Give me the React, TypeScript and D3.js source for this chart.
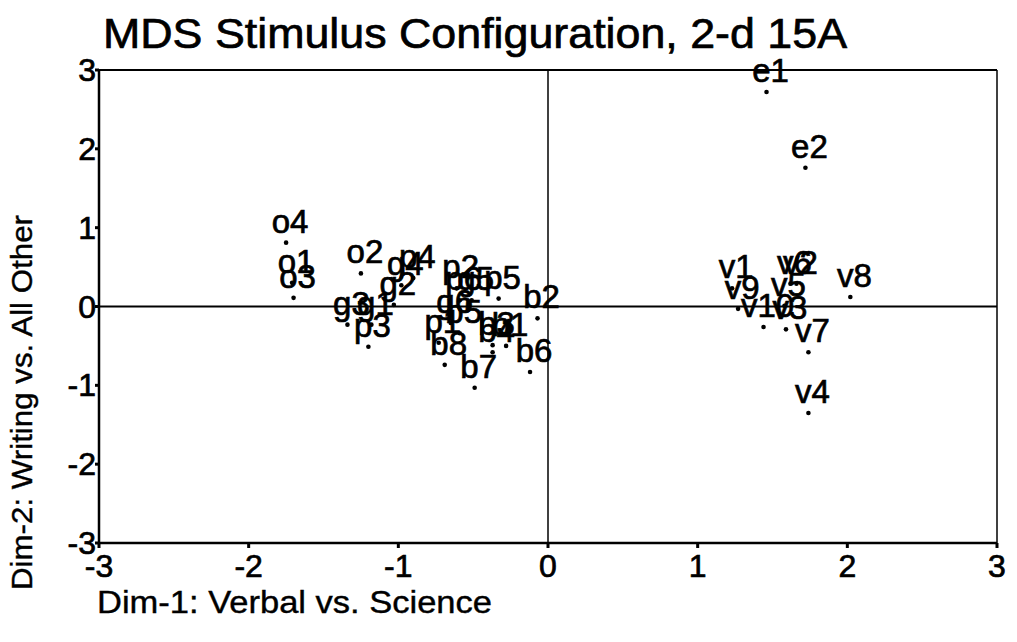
import React from "react";
import * as d3 from "d3";

const labels = ["o1","o2","o3","o4","g1","g2","g3","g4","g5","g6","p1","p2","p3","p4","p5","p6","b1","b2","b3","b4","b5","b6","b7","b8","v1","v2","v3","v4","v5","v6","v7","v8","v9","v10","e1","e2"];
const dim1 = [-1.71,-1.25,-1.70,-1.75,-1.18,-1.03,-1.34,-0.98,-0.51,-0.65,-0.73,-0.61,-1.20,-0.90,-0.33,-0.59,-0.28,-0.07,-0.37,-0.37,-0.59,-0.12,-0.49,-0.69,1.23,1.66,1.59,1.74,1.58,1.62,1.74,2.02,1.27,1.44,1.46,1.72];
const dim2 = [0.30,0.42,0.11,0.81,-0.23,0.02,-0.23,0.27,0.08,-0.21,-0.46,0.23,-0.51,0.36,0.10,0.08,-0.50,-0.15,-0.49,-0.58,-0.34,-0.83,-1.03,-0.74,0.23,0.29,-0.29,-1.35,0.01,0.29,-0.58,0.12,-0.03,-0.26,2.72,1.76];
const ticks = [-3,-2,-1,0,1,2,3];
const title = "MDS Stimulus Configuration, 2-d 15A";
const xTitle = "Dim-1: Verbal vs. Science";
const yTitle = "Dim-2: Writing vs. All Other";

export default function App() {
  const W = 1017, H = 642;
  const x = d3.scaleLinear().domain([-3, 3]).range([99, 997]);
  const y = d3.scaleLinear().domain([-3, 3]).range([543, 70]);
  const font = "'Liberation Sans', Arial, sans-serif";
  const heavy = { stroke: "#000", strokeWidth: 0.7 };
  return (
    <svg width={W} height={H} style={{ position: "absolute", left: 0, top: 0, background: "#fff" }} fontFamily={font}>
      <rect x={0} y={0} width={W} height={H} fill="#fff" />
      <text x={103} y={48} fontSize={43} textLength={744} lengthAdjust="spacingAndGlyphs" {...heavy}>{title}</text>
      {/* frame */}
      <line x1={x(-3)} x2={x(3)} y1={y(3)} y2={y(3)} stroke="#000" strokeWidth={2} />
      <line x1={x(3)} x2={x(3)} y1={y(3)} y2={y(-3)} stroke="#000" strokeWidth={1.5} />
      <line x1={x(-3)} x2={x(3)} y1={y(-3)} y2={y(-3)} stroke="#000" strokeWidth={2.5} />
      <line x1={x(-3)} x2={x(-3)} y1={y(3)} y2={y(-3)} stroke="#000" strokeWidth={2.5} />
      {/* zero lines */}
      <line x1={x(-3)} x2={x(3)} y1={y(0)} y2={y(0)} stroke="#000" strokeWidth={2} />
      <line x1={x(0)} x2={x(0)} y1={y(3)} y2={y(-3)} stroke="#000" strokeWidth={1.5} />
      {ticks.map((t) => (
        <g key={"xt" + t}>
          <line x1={x(t)} x2={x(t)} y1={y(-3)} y2={y(-3) + 5} stroke="#000" strokeWidth={3} />
          <text x={x(t)} y={577} fontSize={32} textAnchor="middle" {...heavy}>{t}</text>
        </g>
      ))}
      {ticks.map((t) => (
        <g key={"yt" + t}>
          <line x1={x(-3) - 4} x2={x(-3)} y1={y(t)} y2={y(t)} stroke="#000" strokeWidth={3} />
          <text x={x(-3) - 3} y={y(t) + 11} fontSize={32} textAnchor="end" {...heavy}>{t}</text>
        </g>
      ))}
      <text x={97} y={613} fontSize={31} textLength={395} lengthAdjust="spacingAndGlyphs" stroke="#000" strokeWidth={0.4}>{xTitle}</text>
      <text transform={`translate(32,590) rotate(-90)`} fontSize={30} textLength={375} lengthAdjust="spacingAndGlyphs" stroke="#000" strokeWidth={0.4}>{yTitle}</text>
      {labels.map((l, i) => (
        <g key={l}>
          <circle cx={x(dim1[i])} cy={y(dim2[i])} r={2.3} fill="#000" />
          <text x={x(dim1[i]) + 4} y={y(dim2[i]) - 10} fontSize={33} textAnchor="middle" {...heavy}>{l}</text>
        </g>
      ))}
    </svg>
  );
}
